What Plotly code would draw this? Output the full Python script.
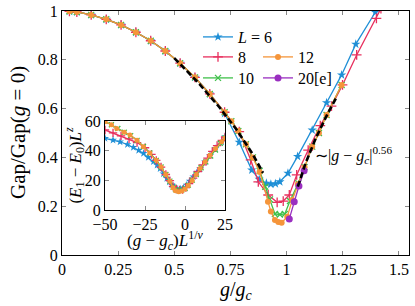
import numpy as np
import plotly.graph_objects as go

# ---------------- data ----------------
g6 = [0.033, 0.066, 0.13, 0.197, 0.263, 0.329, 0.395, 0.46, 0.526, 0.592, 0.658, 0.724,
      0.789, 0.845, 0.878, 0.91, 0.93, 0.95, 0.97, 1.006, 1.049, 1.114, 1.178, 1.245, 1.308, 1.395]
v6 = [0.999, 0.996, 0.984, 0.966, 0.943, 0.913, 0.878, 0.836, 0.786, 0.728, 0.66, 0.58,
      0.462, 0.348, 0.31, 0.294, 0.29, 0.292, 0.30, 0.335, 0.404, 0.512, 0.624, 0.738, 0.864, 0.995]

g8 = [0.033, 0.066, 0.13, 0.197, 0.263, 0.329, 0.395, 0.46, 0.526, 0.592, 0.658, 0.724,
      0.789, 0.84, 0.874, 0.918, 0.958, 0.985, 1.012, 1.045, 1.096, 1.15, 1.20, 1.249, 1.312, 1.40, 1.42]
v8 = [0.999, 0.996, 0.984, 0.966, 0.943, 0.913, 0.878, 0.836, 0.786, 0.728, 0.66, 0.585,
      0.506, 0.39, 0.30, 0.246, 0.216, 0.221, 0.246, 0.328, 0.43, 0.53, 0.61, 0.697, 0.82, 0.97, 1.01]

g10 = [0.033, 0.066, 0.13, 0.197, 0.263, 0.329, 0.395, 0.46, 0.526, 0.592, 0.658, 0.724,
       0.754, 0.785, 0.819, 0.85, 0.88, 0.905, 0.926, 0.948, 0.97, 0.992, 1.015, 1.052,
       1.08, 1.114, 1.144, 1.178, 1.245]
v10 = [0.999, 0.996, 0.984, 0.966, 0.943, 0.913, 0.878, 0.836, 0.786, 0.728, 0.66, 0.585,
       0.548, 0.508, 0.454, 0.40, 0.345, 0.28, 0.228, 0.168, 0.166, 0.168, 0.221, 0.294,
       0.36, 0.444, 0.50, 0.574, 0.697]

g12 = [0.033, 0.066, 0.13, 0.197, 0.263, 0.329, 0.395, 0.46, 0.526, 0.592, 0.658, 0.724,
       0.754, 0.785, 0.819, 0.85, 0.88, 0.917, 0.93, 0.948, 0.963, 0.978, 1.003, 1.025,
       1.05, 1.08, 1.114, 1.144, 1.178, 1.245]
v12 = [0.999, 0.996, 0.984, 0.966, 0.943, 0.913, 0.878, 0.836, 0.786, 0.728, 0.66, 0.585,
       0.548, 0.508, 0.454, 0.40, 0.34, 0.218, 0.178, 0.143, 0.135, 0.132, 0.157, 0.225,
       0.29, 0.36, 0.444, 0.50, 0.574, 0.697]

g20 = [1.012, 1.034, 1.055, 1.078]
v20 = [0.148, 0.218, 0.283, 0.345]

# power-law guide ~|g-gc|^0.56
fit_gc = 1.0
fit_exp = 0.56
fit_amp_left = 1.19
fit_amp_right = 1.5
fit_left_range = (0.5, 0.895)
fit_right_range = (1.05, 1.225)

# inset: scaling collapse
X6 = [-50, -45, -40.6, -36, -32.3, -29, -26, -23, -19.8, -17.5, -15.6, -13.5, -11.4, -9.8,
      -8.3, -6.7, -5.2, -3, -1, 1.1, 3, 5.2, 7.3, 9.4, 12.5, 15.6, 19, 22.9, 25]
Y6 = [48.3, 47.2, 46, 44.2, 42.3, 40.3, 38.2, 35.5, 32.6, 30.3, 28, 24.5, 21.4, 19,
      16.9, 15.6, 14.6, 14.2, 15, 16.9, 19.5, 22.5, 25.2, 28, 32.5, 37, 41.5, 46, 49.4]
X8 = [-50, -45, -40, -35, -30, -25, -21, -18, -15, -12, -9.5, -7.5, -5.5, -3.5, -1.5, 0.5,
      2.5, 5, 8, 11, 14, 17, 20, 23, 25]
Y8 = [54, 52, 50, 48, 45.5, 42, 37.5, 33.5, 29, 24, 19.8, 16, 14.2, 13.6, 13.8, 15.2,
      17.8, 21.5, 26, 30.5, 35, 39.5, 43.5, 47, 49.2]
X10 = [-50, -46, -42, -38, -34, -30, -26, -22, -18, -15, -12, -9.5, -7.5, -6, -4, -2, 0,
       2, 4.5, 7, 10, 13, 16, 19, 22, 25]
Y10 = [59.8, 57.5, 55, 52.5, 50.2, 47, 42.8, 38.5, 33.5, 29, 24, 19.5, 15.5, 13.8, 13.2,
       13.6, 14.6, 16.8, 20.2, 24, 28.5, 32.5, 36.5, 40.5, 45, 48.6]
X12 = [-50, -46, -42.7, -38, -34.4, -30, -26, -22, -18, -15, -12, -9.5, -7.5, -6, -4, -2,
       0, 2, 4.5, 7, 9.4, 12.5, 15.6, 19, 22.9, 25]
Y12 = [59.6, 57.5, 55, 52.5, 50.6, 47, 42.7, 38.5, 33.5, 29, 24, 19.5, 15, 13, 12.4, 12.8,
       14.2, 16.5, 20, 24, 28, 32.5, 37, 41.5, 46, 48.5]

# ---------------- styling ----------------
C6, C8, C10, C12, C20 = "#1f8fd6", "#e8305e", "#3fc04a", "#f5953a", "#9a2fc0"
FONT = "'Liberation Serif', 'Times New Roman', Times, serif"

W, H, L_, R_, T_, B_ = 415, 306, 62, 6, 11, 51
def px(xp):
    return (xp - L_) / (W - L_ - R_)
def py(yp):
    return (H - B_ - yp) / (H - T_ - B_)

fig = go.Figure()

def add(x, y, name, color, symbol, size, xa="x", ya="y", legend="legend", show=True, filled=True):
    marker = dict(symbol=symbol, size=size, color=color,
                  line=dict(width=1.3 if not filled else 0, color=color))
    fig.add_trace(go.Scatter(x=x, y=y, name=name, mode="lines+markers",
                             line=dict(color=color, width=1.3), marker=marker,
                             xaxis=xa, yaxis=ya, legend=legend, showlegend=show))

add(g6, v6, "<i>L</i> = 6", C6, "star", 7, legend="legend")
add(g8, v8, "8", C8, "cross-thin", 7, legend="legend2", filled=False)
add(g10, v10, "10", C10, "x-thin", 6, legend="legend3", filled=False)
add(g12, v12, "12", C12, "circle", 6, legend="legend4")
add(g20, v20, "20[e]", C20, "circle", 7, legend="legend5")

# power-law guides
for (a, b), amp in [(fit_left_range, fit_amp_left), (fit_right_range, fit_amp_right)]:
    gx = np.linspace(a, b, 40)
    gy = amp * np.abs(gx - fit_gc) ** fit_exp
    fig.add_trace(go.Scatter(x=gx, y=gy, mode="lines", showlegend=False,
                             line=dict(color="black", width=2.6, dash="6px,3px")))

# inset traces
add(X6, Y6, "", C6, "star", 6, "x2", "y2", show=False)
add(X8, Y8, "", C8, "cross-thin", 6, "x2", "y2", show=False, filled=False)
add(X10, Y10, "", C10, "x-thin", 5, "x2", "y2", show=False, filled=False)
add(X12, Y12, "", C12, "circle", 5, "x2", "y2", show=False)

axis_common = dict(showline=True, linecolor="black", linewidth=1.3, mirror="ticks",
                   ticks="inside", ticklen=4, tickwidth=1, tickcolor="#888",
                   showgrid=False, zeroline=False, automargin=False,
                   tickfont=dict(family=FONT, size=16, color="black"))

def leg(xp, yc):
    return dict(x=px(xp), y=py(yc - 10), xanchor="left", yanchor="top",
                bgcolor="rgba(0,0,0,0)", font=dict(family=FONT, size=16), tracegroupgap=0)

fig.update_layout(
    width=W, height=H,
    margin=dict(l=L_, r=R_, t=T_, b=B_),
    paper_bgcolor="white", plot_bgcolor="white",
    font=dict(family=FONT, size=16, color="black"),
    xaxis=dict(range=[0, 1.545], domain=[0, 1],
               tickvals=[0, 0.25, 0.5, 0.75, 1, 1.25, 1.5],
               ticktext=["0", "0.25", "0.5", "0.75", "1", "1.25", "1.5"],
               **axis_common),
    yaxis=dict(range=[0, 1], domain=[0, 1],
               tickvals=[0, 0.2, 0.4, 0.6, 0.8, 1],
               ticktext=["0", "0.2", "0.4", "0.6", "0.8", "1"],
               **axis_common),
    xaxis2=dict(range=[-50, 25], domain=[0.124, 0.470], anchor="y2",
                tickvals=[-50, -25, 0, 25], **axis_common),
    yaxis2=dict(range=[0, 60], domain=[0.184, 0.549], anchor="x2",
                tickvals=[0, 20, 40, 60], **axis_common),
    legend=leg(198, 30),
    legend2=leg(198, 50),
    legend3=leg(198, 71),
    legend4=leg(258, 50),
    legend5=leg(258, 71),
    annotations=[
        dict(text="<i>g</i>/<i>g<sub>c</sub></i>", x=px(236), y=py(290), xref="paper", yref="paper",
             xanchor="center", yanchor="middle", showarrow=False, font=dict(family=FONT, size=20)),
        dict(text="Gap/Gap(<i>g</i> = 0)", x=px(18), y=py(133), xref="paper", yref="paper",
             xanchor="center", yanchor="middle", textangle=-90, showarrow=False,
             font=dict(family=FONT, size=21)),
        dict(text="∼|<i>g</i> − <i>g<sub>c</sub></i>|<sup>0.56</sup>",
             x=1.117, y=0.41, xref="x", yref="y", xanchor="left", yanchor="middle",
             showarrow=False, font=dict(family=FONT, size=16)),
        dict(text="(<i>g</i> − <i>g<sub>c</sub></i>)<i>L</i><sup>1/<i>ν</i></sup>",
             x=0.5, y=-0.34, xref="x2 domain", yref="y2 domain",
             xanchor="center", yanchor="middle", showarrow=False, font=dict(family=FONT, size=17)),
        dict(text="(<i>E</i><sub>1</sub> − <i>E</i><sub>0</sub>)<i>L<sup>z</sup></i>",
             x=-0.25, y=0.5, xref="x2 domain", yref="y2 domain", textangle=-90,
             xanchor="center", yanchor="middle", showarrow=False, font=dict(family=FONT, size=17)),
    ],
)

fig.write_html("out.html", config={"displayModeBar": False},
               post_script="document.body.style.margin='0px';")
